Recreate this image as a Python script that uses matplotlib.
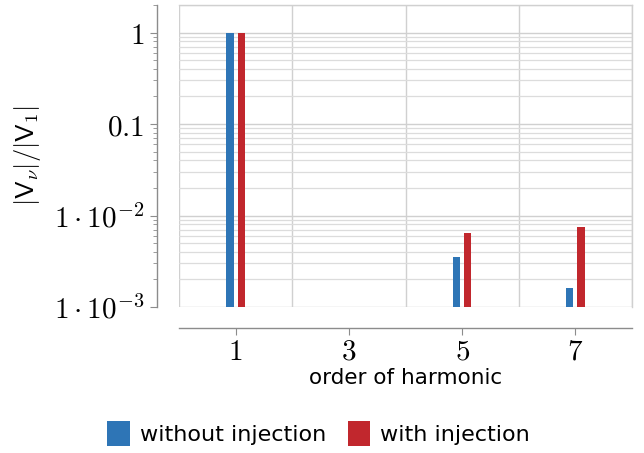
import numpy as np
import matplotlib
matplotlib.use('Agg')
import matplotlib.pyplot as plt
from matplotlib.ticker import FixedLocator, FixedFormatter, LogLocator, NullFormatter

# data
harmonics = [1, 3, 5, 7]
without_inj = [1.0, 0.0, 3.5e-3, 1.6e-3]
with_inj = [1.0, 0.0, 6.5e-3, 7.5e-3]
ytick_vals = [1e-3, 1e-2, 0.1, 1]
ytick_labels = [r'$1\cdot10^{-3}$', r'$1\cdot10^{-2}$', r'$0.1$', r'$1$']

blue = '#2e75b6'
red = '#c1272d'

plt.rcParams['mathtext.fontset'] = 'cm'

fig = plt.figure(figsize=(6.44, 4.53), dpi=100)
ax = fig.add_axes([179/644, 1 - 307/453, (632-179)/644, (307-5)/453])

x = np.array(harmonics, dtype=float)
ax.bar(x - 0.1, without_inj, width=0.13, color=blue, label='without injection', zorder=3)
ax.bar(x + 0.1, with_inj, width=0.13, color=red, label='with injection', zorder=3)

ax.set_yscale('log')
ax.set_ylim(1e-3, 2)
ax.set_xlim(0, 8)

# ticks
ax.xaxis.set_major_locator(FixedLocator(harmonics))
ax.xaxis.set_major_formatter(FixedFormatter([r'$%d$' % h for h in harmonics]))
ax.xaxis.set_minor_locator(FixedLocator([0, 2, 4, 6, 8]))
ax.yaxis.set_major_locator(FixedLocator(ytick_vals))
ax.yaxis.set_major_formatter(FixedFormatter(ytick_labels))
ax.yaxis.set_minor_locator(LogLocator(base=10, subs=np.arange(2, 10)))
ax.yaxis.set_minor_formatter(NullFormatter())

ax.grid(True, which='major', axis='y', color='#d0d0d0', lw=1.0, zorder=0)
ax.grid(True, which='minor', axis='y', color='#dcdcdc', lw=0.9, zorder=0)
ax.grid(True, which='minor', axis='x', color='#d0d0d0', lw=1.0, zorder=0)
ax.grid(False, which='major', axis='x')

for s in ['top', 'right']:
    ax.spines[s].set_color('#d0d0d0')
    ax.spines[s].set_linewidth(1.0)
ax.spines['left'].set_position(('outward', 16))
ax.spines['bottom'].set_position(('outward', 15))
for s in ['left', 'bottom']:
    ax.spines[s].set_color('#8c8c8c')
    ax.spines[s].set_linewidth(1.0)

ax.tick_params(axis='both', which='major', length=5, color='#8c8c8c', labelsize=21)
ax.tick_params(axis='y', which='major', pad=4)
ax.tick_params(axis='x', which='major', pad=2)
ax.tick_params(axis='y', which='minor', length=3, color='#8c8c8c')
ax.tick_params(axis='x', which='minor', length=0)

ax.set_xlabel('order of harmonic', fontsize=15.5, labelpad=2)
ax.set_ylabel(r'$|\mathsf{V}_{\nu}|/|\mathsf{V}_{\mathsf{1}}|$', fontsize=19, labelpad=8)

fig.legend(loc='lower center', bbox_to_anchor=(0.495, -0.028), ncol=2, frameon=False,
           fontsize=16, handlelength=1.0, handleheight=1.3, columnspacing=1.0,
           handletextpad=0.45)

fig.savefig('out.png', dpi=100)
